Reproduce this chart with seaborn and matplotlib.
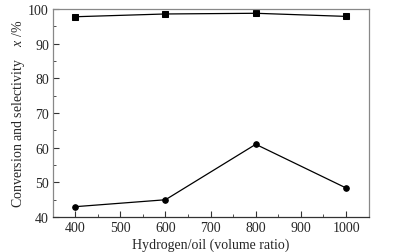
import matplotlib
matplotlib.use("Agg")
import matplotlib.pyplot as plt
import seaborn as sns
import pandas as pd
from matplotlib.ticker import MultipleLocator

ratio = [400, 600, 800, 1000]
selectivity = [97.8, 98.6, 98.8, 97.9]
conversion = [43.0, 45.0, 61.0, 48.4]

sns.set_style("ticks")
plt.rcParams["font.family"] = ["Liberation Serif", "DejaVu Serif"]
plt.rcParams["mathtext.fontset"] = "custom"
plt.rcParams["mathtext.it"] = "Liberation Serif:italic"
plt.rcParams["mathtext.rm"] = "Liberation Serif"

df = pd.DataFrame({"ratio": ratio, "selectivity": selectivity, "conversion": conversion})

fig, ax = plt.subplots(figsize=(3.96, 2.53), dpi=100)
fig.subplots_adjust(left=0.134, right=0.932, top=0.96, bottom=0.138)

sns.lineplot(data=df, x="ratio", y="selectivity", ax=ax, color="black", lw=0.9,
             marker="s", markersize=4, markeredgecolor="black")
sns.lineplot(data=df, x="ratio", y="conversion", ax=ax, color="black", lw=0.9,
             marker="o", markersize=4, markeredgecolor="black")

ax.set_xlim(351, 1051)
ax.set_ylim(40, 100)
ax.xaxis.set_major_locator(MultipleLocator(100))
ax.xaxis.set_minor_locator(MultipleLocator(50))
ax.yaxis.set_major_locator(MultipleLocator(10))
ax.yaxis.set_minor_locator(MultipleLocator(5))
ax.tick_params(which="both", direction="in", labelsize=10, color="#333333", pad=3)
ax.tick_params(which="major", length=4)
ax.tick_params(which="minor", length=2.5)
for s in ax.spines.values():
    s.set_color("#888888")
    s.set_linewidth(0.9)
ax.spines["bottom"].set_color("#333333")

ax.set_xlabel("Hydrogen/oil (volume ratio)", fontsize=10, labelpad=2)
ax.set_ylabel("Conversion and selectivity    $x$ /%", fontsize=10, labelpad=1)

fig.savefig("out.png", dpi=100)
